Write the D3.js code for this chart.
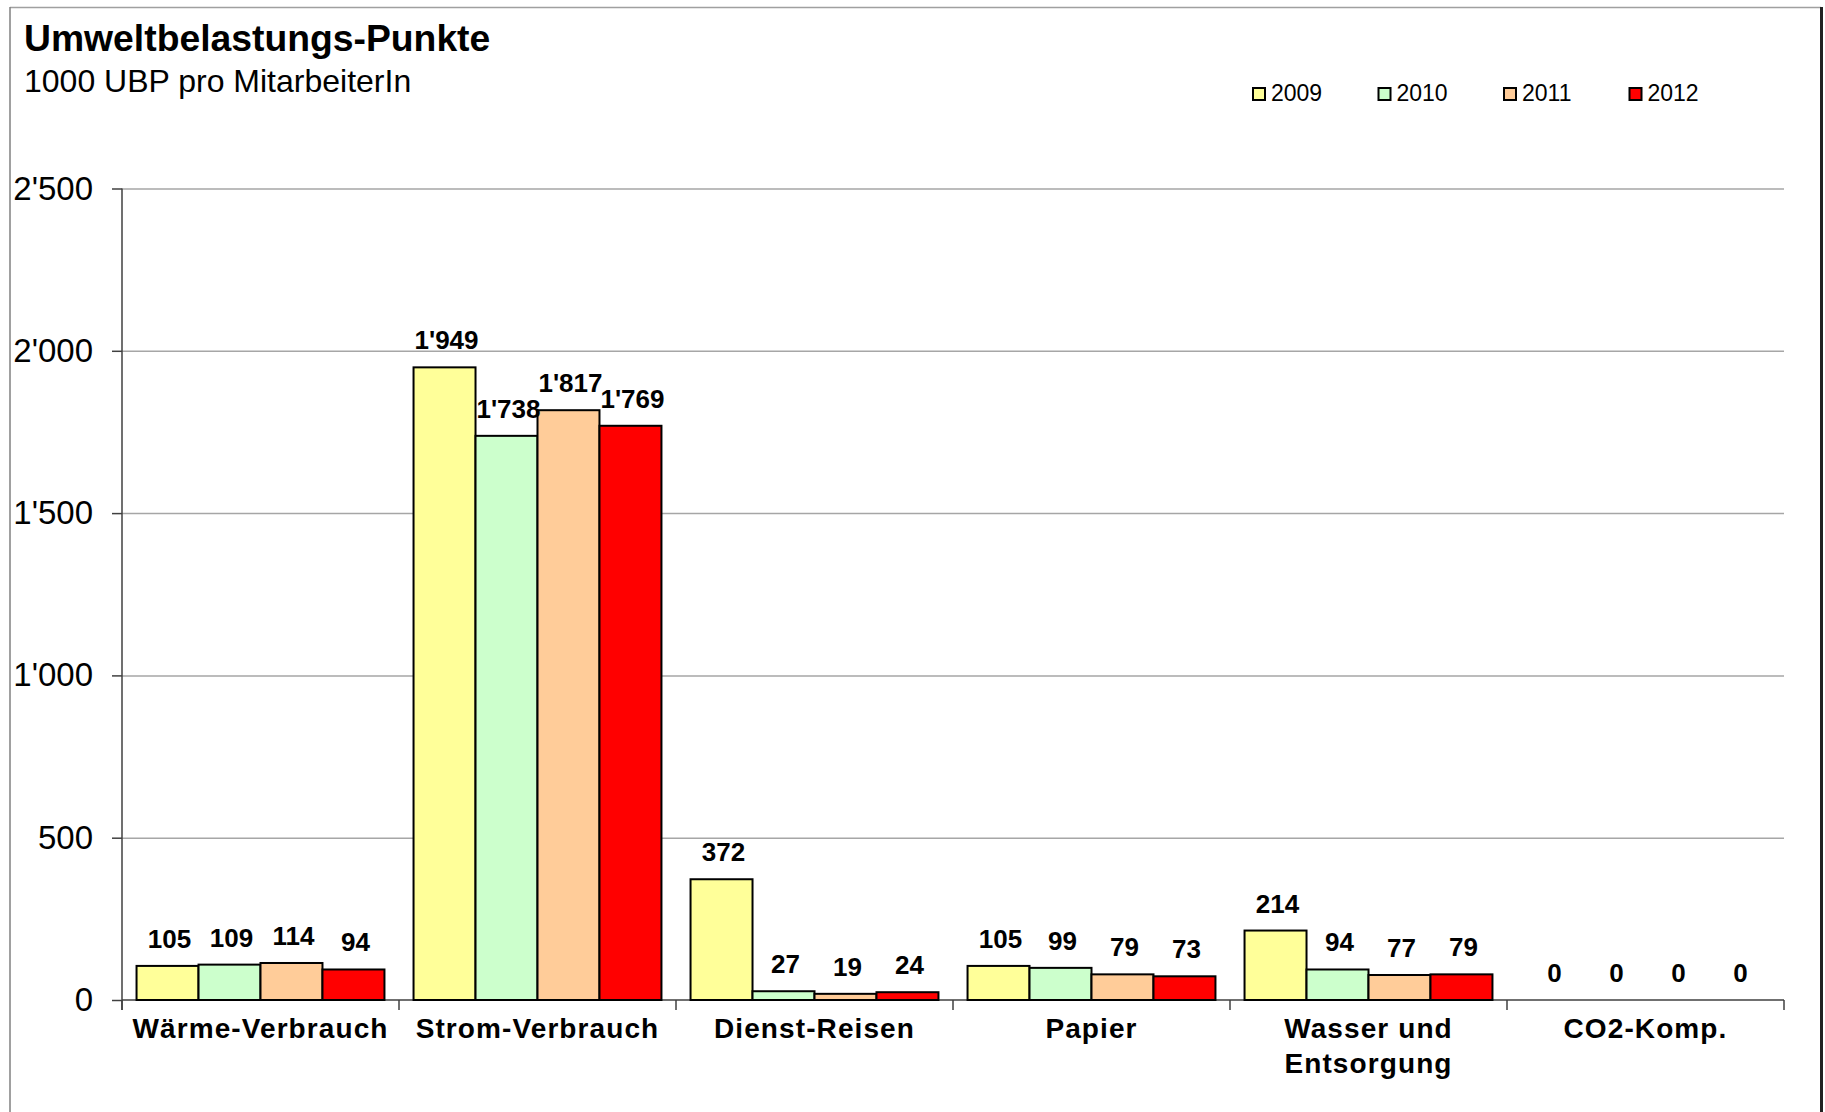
<!DOCTYPE html>
<html>
<head>
<meta charset="utf-8">
<script src="https://cdn.jsdelivr.net/npm/d3@7"></script>
<style>
  body { margin: 0; background: #fff; }
  svg { font-family: "Liberation Sans", Arial, sans-serif; }
  .grid line { stroke: #a6a6a6; stroke-width: 1.5; }
  .grid path { display: none; }
</style>
</head>
<body>
<div id="graf"></div>
<script>
const categories = ["Wärme-Verbrauch", "Strom-Verbrauch", "Dienst-Reisen", "Papier", "Wasser und Entsorgung", "CO2-Komp."]
const years = ["2009", "2010", "2011", "2012"]
const v2009 = [105, 1949, 372, 105, 214, 0]
const v2010 = [109, 1738, 27, 99, 94, 0]
const v2011 = [114, 1817, 19, 79, 77, 0]
const v2012 = [94, 1769, 24, 73, 79, 0]
const yTicks = [0, 500, 1000, 1500, 2000, 2500]
const colors = ["#FFFF99", "#CCFFCC", "#FFCC99", "#FF0000"]

const series = [v2009, v2010, v2011, v2012]
const data = categories.map((c, i) => ({
  cat: c,
  vals: years.map((y, j) => ({ year: y, value: series[j][i] }))
}))

const loc = d3.formatLocale({ decimal: ".", thousands: "'", grouping: [3], currency: ["", ""] })
const fmt = loc.format(",d")

const W = 1825, H = 1112
const margins = { left: 122, top: 188.5, right: 41, bottom: 112 }
const ancho = W - margins.left - margins.right
const alto = H - margins.top - margins.bottom

const svg = d3.select("#graf").append("svg").attr("width", W).attr("height", H)

// Rahmen
svg.append("line").attr("x1", 10).attr("x2", 1821).attr("y1", 7.5).attr("y2", 7.5)
  .attr("stroke", "#a0a0a0").attr("stroke-width", 1.5)
svg.append("line").attr("x1", 10).attr("x2", 10).attr("y1", 7).attr("y2", H)
  .attr("stroke", "#808080").attr("stroke-width", 1.5)
svg.append("line").attr("x1", 1821.5).attr("x2", 1821.5).attr("y1", 7).attr("y2", H)
  .attr("stroke", "#222").attr("stroke-width", 3)

svg.append("text").attr("x", 24).attr("y", 51)
  .attr("font-size", 37.3).attr("font-weight", "bold").text("Umweltbelastungs-Punkte")
svg.append("text").attr("x", 24).attr("y", 92)
  .attr("font-size", 32).text("1000 UBP pro MitarbeiterIn")

const g = svg.append("g").attr("transform", `translate(${margins.left}, ${margins.top})`)

const x0 = d3.scaleBand().domain(categories).range([0, ancho]).paddingInner(0.105).paddingOuter(0.0525)
const x1 = d3.scaleBand().domain(years).range([0, x0.bandwidth()])
const y = d3.scaleLinear().domain([0, 2500]).range([alto, 0])

g.append("g").attr("class", "grid")
  .call(d3.axisLeft(y).tickValues(yTicks.slice(1)).tickSize(-ancho).tickFormat(""))

// y-Achse
const yAx = g.append("g").call(d3.axisLeft(y).tickValues(yTicks).tickSize(10).tickFormat(fmt))
yAx.select(".domain").attr("stroke", "#404040").attr("stroke-width", 1.5)
  .attr("d", `M0,${alto + 10}V0`)
yAx.selectAll(".tick line").attr("stroke", "#404040").attr("stroke-width", 1.5)
yAx.selectAll("text").attr("font-size", 33).attr("fill", "#000").attr("x", -29)
  .attr("font-family", "Liberation Sans, Arial, sans-serif")

// x-Achse
const xb = d3.scaleLinear().domain([0, categories.length]).range([0, ancho])
g.append("line").attr("x1", 0).attr("x2", ancho).attr("y1", alto).attr("y2", alto)
  .attr("stroke", "#404040").attr("stroke-width", 1.5)
g.selectAll(".xtick").data(d3.range(categories.length + 1)).enter().append("line")
  .attr("x1", (d) => xb(d)).attr("x2", (d) => xb(d))
  .attr("y1", alto).attr("y2", alto + 10)
  .attr("stroke", "#404040").attr("stroke-width", 1.5)

const groups = g.selectAll(".grp").data(data).enter().append("g")
  .attr("transform", (d) => `translate(${x0(d.cat)},0)`)

groups.selectAll("rect").data((d) => d.vals).enter().append("rect")
  .attr("x", (d) => x1(d.year))
  .attr("y", (d) => y(d.value))
  .attr("width", x1.bandwidth())
  .attr("height", (d) => alto - y(d.value))
  .attr("fill", (d, i) => colors[i])
  .attr("stroke", (d) => d.value > 0 ? "#000" : "none")
  .attr("stroke-width", 2)

groups.selectAll(".lbl").data((d) => d.vals).enter().append("text")
  .attr("x", (d) => x1(d.year) + x1.bandwidth() / 2 + 2)
  .attr("y", (d) => y(d.value) - 18)
  .attr("text-anchor", "middle")
  .attr("font-size", 26).attr("font-weight", "bold")
  .text((d) => fmt(d.value))

// Kategorien
groups.append("text")
  .attr("x", x0.bandwidth() / 2)
  .attr("y", alto + 38)
  .attr("text-anchor", "middle")
  .attr("font-size", 28).attr("font-weight", "bold").attr("letter-spacing", 1.1)
  .each(function (d) {
    const parts = d.cat === "Wasser und Entsorgung" ? ["Wasser und", "Entsorgung"] : [d.cat]
    d3.select(this).selectAll("tspan").data(parts).enter().append("tspan")
      .attr("x", x0.bandwidth() / 2).attr("dy", (p, i) => i === 0 ? 0 : 35).text((p) => p)
  })

// Legende
const leg = svg.append("g").selectAll("g").data(years).enter().append("g")
  .attr("transform", (d, i) => `translate(${1253 + i * 125.5}, 88)`)
leg.append("rect").attr("width", 12).attr("height", 12)
  .attr("fill", (d, i) => colors[i]).attr("stroke", "#000").attr("stroke-width", 2)
leg.append("text").attr("x", 18).attr("y", 12.5).attr("font-size", 23).text((d) => d)
</script>
</body>
</html>
